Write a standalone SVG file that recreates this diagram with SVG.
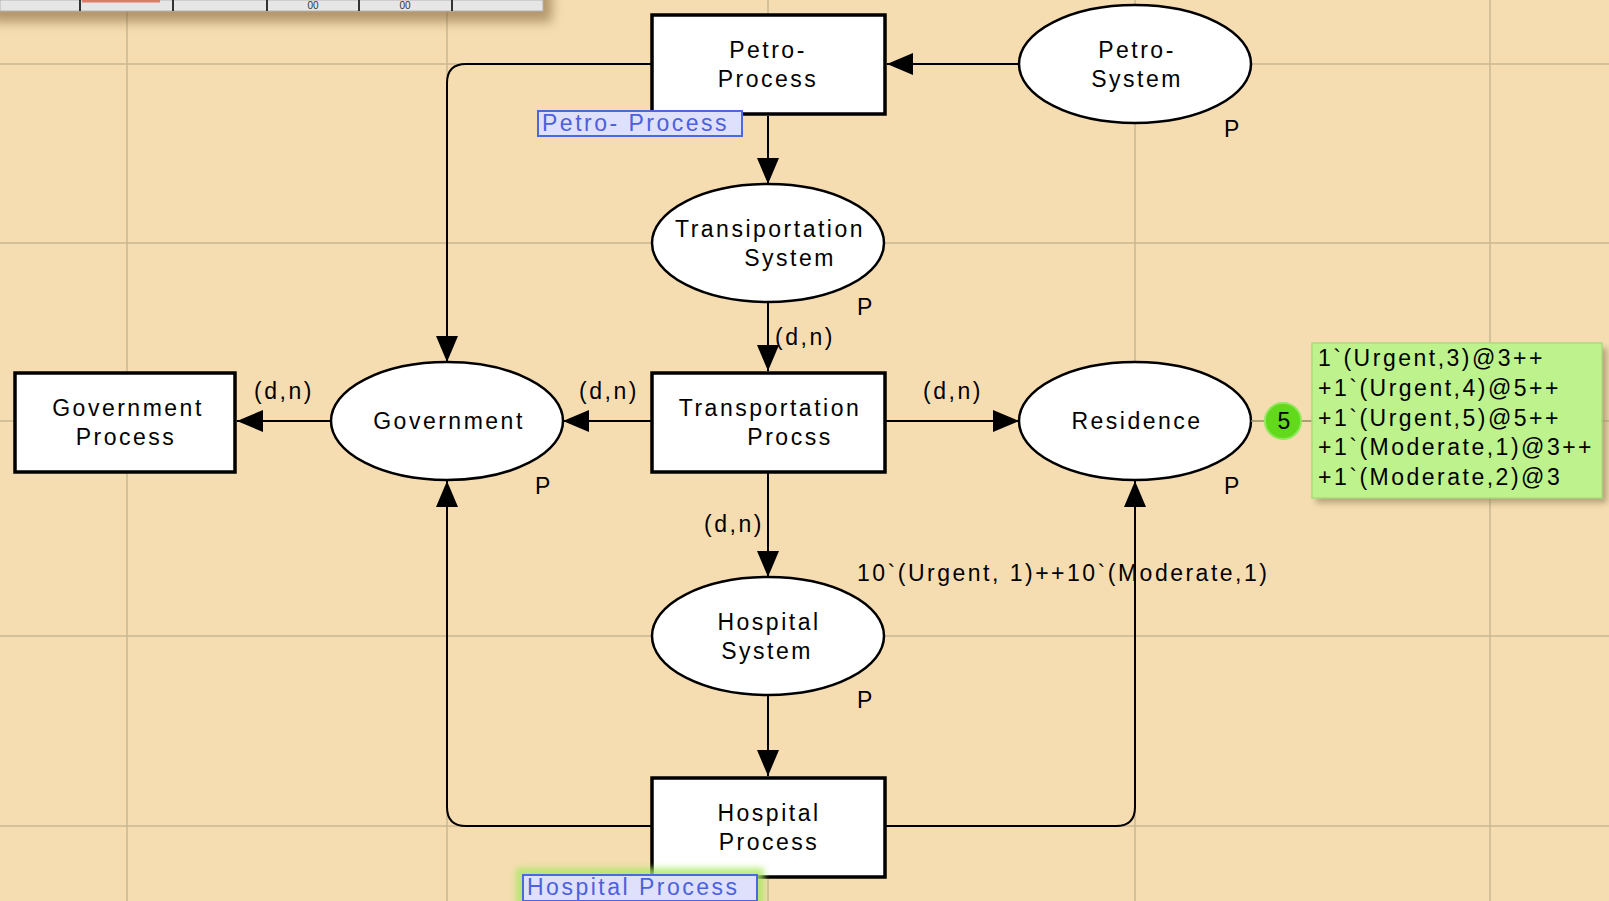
<svg xmlns="http://www.w3.org/2000/svg" width="1609" height="901" viewBox="0 0 1609 901">
  <defs>
    <style>
      .bg { fill: #f5ddb1; }
      .grid line { stroke: #c9b793; stroke-width: 1.5; }
      .place { fill: #ffffff; stroke: #000000; stroke-width: 2.5; }
      .trans { fill: #ffffff; stroke: #000000; stroke-width: 3.5; }
      .arc { fill: none; stroke: #000000; stroke-width: 2; marker-end: url(#head); }
      text { font-family: "Liberation Sans", Arial, sans-serif; font-size: 23px; letter-spacing: 2.5px; fill: #000000; }
      .c { text-anchor: middle; }
      .tag rect { fill: #dfe0fb; stroke: #4b68de; stroke-width: 2; }
      .tag text { fill: #4b62dc; }
      .tool { font-size: 10px; letter-spacing: 0; fill: #333333; }
    </style>
    <marker id="head" markerUnits="userSpaceOnUse" markerWidth="26" markerHeight="22" refX="26" refY="11" orient="auto">
      <path d="M0,0 L26,11 L0,22 Z" fill="#000000"/>
    </marker>
    <filter id="soft" x="-20%" y="-50%" width="140%" height="250%">
      <feGaussianBlur stdDeviation="6"/>
    </filter>
    <filter id="glow" x="-20%" y="-60%" width="140%" height="220%">
      <feGaussianBlur stdDeviation="3"/>
    </filter>
  </defs>

  <!-- canvas -->
  <rect class="bg" x="0" y="0" width="1609" height="901"/>

  <!-- guide grid -->
  <g class="grid">
    <line x1="127" y1="0" x2="127" y2="901"/>
    <line x1="447" y1="0" x2="447" y2="901"/>
    <line x1="768" y1="0" x2="768" y2="901"/>
    <line x1="1135" y1="0" x2="1135" y2="901"/>
    <line x1="1490" y1="0" x2="1490" y2="901"/>
    <line x1="0" y1="64" x2="1609" y2="64"/>
    <line x1="0" y1="243" x2="1609" y2="243"/>
    <line x1="0" y1="421" x2="1609" y2="421"/>
    <line x1="0" y1="636" x2="1609" y2="636"/>
    <line x1="0" y1="826" x2="1609" y2="826"/>
  </g>

  <!-- toolbar strip along the top edge -->
  <g id="toolbar">
    <rect x="-10" y="-20" width="562" height="42" fill="#7a5a30" opacity="0.55" filter="url(#soft)"/>
    <rect x="0" y="0" width="543" height="11" fill="#e6e6e6" stroke="#b4b4b4" stroke-width="1"/>
    <rect x="82" y="0" width="78" height="2.5" fill="#e07a68"/>
    <g stroke="#333333" stroke-width="2">
      <line x1="80" y1="0" x2="80" y2="11"/>
      <line x1="173" y1="0" x2="173" y2="11"/>
      <line x1="267" y1="0" x2="267" y2="11"/>
      <line x1="359" y1="0" x2="359" y2="11"/>
      <line x1="452" y1="0" x2="452" y2="11"/>
    </g>
    <text x="313" y="9" class="c tool">00</text>
    <text x="405" y="9" class="c tool">00</text>
  </g>

  <!-- arcs -->
  <g id="connectors">
    <path class="arc" d="M1019,64 L887,64"/>
    <path class="arc" d="M768,116 L768,184"/>
    <path class="arc" d="M651,64 L466,64 Q447,64 447,83 L447,362"/>
    <path class="arc" d="M768,302 L768,371"/>
    <path class="arc" d="M651,421 L563,421"/>
    <path class="arc" d="M330,421 L237,421"/>
    <path class="arc" d="M886,421 L1019,421"/>
    <path class="arc" d="M768,473 L768,577"/>
    <path class="arc" d="M768,695 L768,776"/>
    <path class="arc" d="M651,826 L466,826 Q447,826 447,807 L447,481"/>
    <path class="arc" d="M886,826 L1116,826 Q1135,826 1135,807 L1135,481"/>
  </g>

  <!-- arc inscriptions -->
  <g id="arc-labels">
    <text x="284" y="399" class="c">(d,n)</text>
    <text x="609" y="399" class="c">(d,n)</text>
    <text x="953" y="399" class="c">(d,n)</text>
    <text x="805" y="345" class="c">(d,n)</text>
    <text x="734" y="532" class="c">(d,n)</text>
  </g>

  <!-- places -->
  <g id="petro-system">
    <ellipse class="place" cx="1135" cy="64" rx="116" ry="59"/>
    <text x="1137" y="57.5" class="c">Petro-</text>
    <text x="1137" y="86.5" class="c">System</text>
    <text x="1233" y="137" class="c">P</text>
  </g>

  <g id="transportation-system">
    <ellipse class="place" cx="768" cy="243" rx="116" ry="59"/>
    <text x="770" y="236.5" class="c">Transiportation</text>
    <text x="790" y="265.5" class="c">System</text>
    <text x="866" y="315" class="c">P</text>
  </g>

  <g id="government">
    <ellipse class="place" cx="447" cy="421" rx="116" ry="59"/>
    <text x="449" y="429" class="c">Government</text>
    <text x="544" y="494" class="c">P</text>
  </g>

  <g id="residence">
    <ellipse class="place" cx="1135" cy="421" rx="116" ry="59"/>
    <text x="1137" y="429" class="c">Residence</text>
    <text x="1233" y="494" class="c">P</text>
  </g>

  <g id="hospital-system">
    <ellipse class="place" cx="768" cy="636" rx="116" ry="59"/>
    <text x="769" y="629.5" class="c">Hospital</text>
    <text x="767" y="658.5" class="c">System</text>
    <text x="866" y="708" class="c">P</text>
    <text x="857" y="581">10`(Urgent, 1)++10`(Moderate,1)</text>
  </g>

  <!-- transitions -->
  <g id="petro-process">
    <rect class="trans" x="652" y="15" width="233" height="99"/>
    <text x="768" y="57.5" class="c">Petro-</text>
    <text x="768" y="86.5" class="c">Process</text>
  </g>

  <g id="transportation-process">
    <rect class="trans" x="652" y="373" width="233" height="99"/>
    <text x="770" y="415.5" class="c">Transportation</text>
    <text x="790" y="444.5" class="c">Procss</text>
  </g>

  <g id="government-process">
    <rect class="trans" x="15" y="373" width="220" height="99"/>
    <text x="128" y="415.5" class="c">Government</text>
    <text x="126" y="444.5" class="c">Process</text>
  </g>

  <g id="hospital-process">
    <rect class="trans" x="652" y="778" width="233" height="99"/>
    <text x="769" y="820.5" class="c">Hospital</text>
    <text x="769" y="849.5" class="c">Process</text>
  </g>

  <!-- substitution tags -->
  <g id="petro-process-tag" class="tag">
    <rect x="538" y="111" width="204" height="25"/>
    <text x="542" y="131">Petro- Process</text>
  </g>

  <g id="hospital-process-tag" class="tag">
    <rect x="516" y="868" width="248" height="40" opacity="0.8" filter="url(#glow)" style="fill:#a8e860;stroke:none"/>
    <rect x="523" y="875" width="234" height="26"/>
    <text x="527" y="895">Hospital Process</text>
  </g>

  <!-- marking of Residence -->
  <g id="residence-marking">
    <line x1="1251" y1="421" x2="1312" y2="421" stroke="#9a9a6a" stroke-width="1.5"/>
    <circle cx="1283" cy="421" r="18" fill="#62d91a" stroke="#8fe85a" stroke-width="2"/>
    <text x="1284" y="429" class="c" style="letter-spacing:0">5</text>
    <rect x="1316" y="348" width="291" height="155" fill="#8a7a55" opacity="0.6" filter="url(#glow)"/>
    <rect x="1312" y="343" width="290" height="155" fill="#bdf28c" stroke="#a9dc7c" stroke-width="1.5"/>
    <text x="1318" y="366">1`(Urgent,3)@3++</text>
    <text x="1318" y="396">+1`(Urgent,4)@5++</text>
    <text x="1318" y="426">+1`(Urgent,5)@5++</text>
    <text x="1318" y="455">+1`(Moderate,1)@3++</text>
    <text x="1318" y="485">+1`(Moderate,2)@3</text>
  </g>
</svg>
